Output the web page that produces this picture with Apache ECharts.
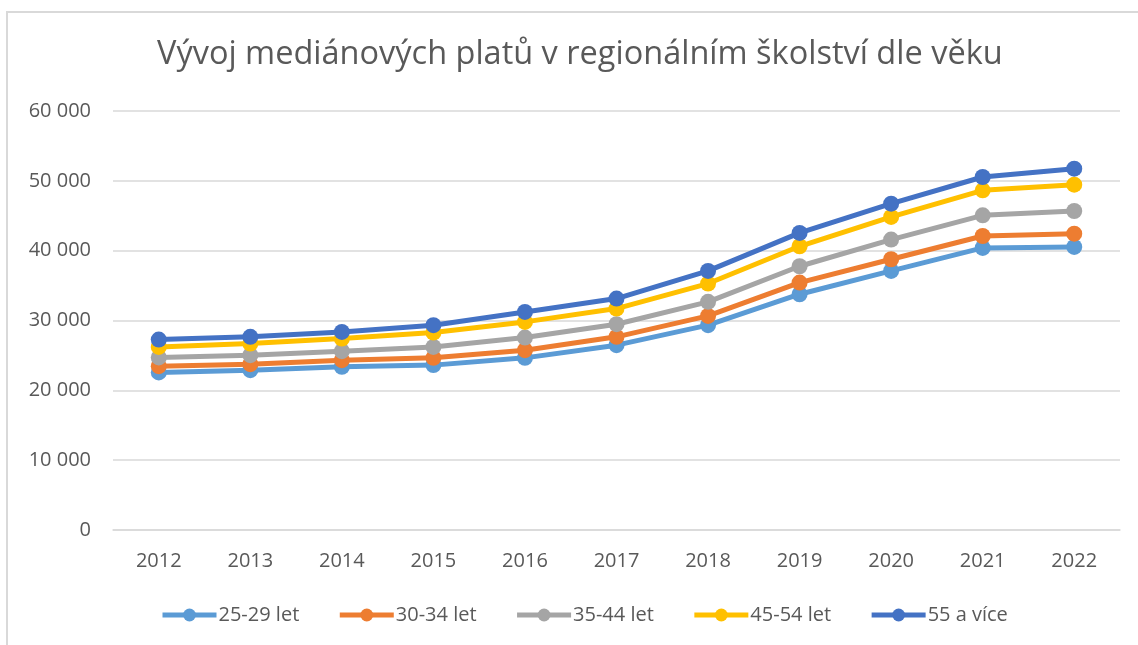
<!DOCTYPE html>
<html>
<head>
<meta charset="utf-8">
<script src="https://cdn.jsdelivr.net/npm/echarts@6/dist/echarts.min.js"></script>
<style>
  html, body { margin: 0; padding: 0; background: #fff; }
  #chart { width: 1138px; height: 645px; }
  .frame {
    position: absolute; left: 6px; top: 11px; width: 1140px; height: 640px;
    border-left: 2px solid #d9d9d9; border-top: 2px solid #d9d9d9;
    pointer-events: none;
  }
</style>
</head>
<body>
<div id="chart"></div>
<div class="frame"></div>
<script>
// roky
const years = ['2012', '2013', '2014', '2015', '2016', '2017', '2018', '2019', '2020', '2021', '2022']
// mediánové platy podle věkových skupin
const age25_29 = [22560, 22890, 23360, 23610, 24650, 26470, 29330, 33760, 37100, 40390, 40530]
const age30_34 = [23460, 23750, 24320, 24650, 25750, 27660, 30660, 35430, 38770, 42100, 42440]
const age35_44 = [24710, 25040, 25610, 26220, 27560, 29470, 32670, 37770, 41590, 45060, 45680]
const age45_54 = [26220, 26710, 27420, 28280, 29800, 31710, 35290, 40630, 44830, 48640, 49450]
const age55plus = [27270, 27660, 28370, 29330, 31230, 33140, 37100, 42540, 46730, 50550, 51740]
const seriesNames = ['25-29 let', '30-34 let', '35-44 let', '45-54 let', '55 a více']
const colors = ['#5b9bd5', '#ed7d31', '#a5a5a5', '#ffc000', '#4472c4']

const font = '"Open Sans", "Noto Sans", sans-serif'
let myEcharts = echarts.init(document.getElementById('chart'))

const makeLine = (name, data, color) => ({
  name: name,
  type: 'line',
  data: data,
  symbol: 'circle',
  symbolSize: 16,
  lineStyle: { width: 5, color: color },
  itemStyle: { color: color },
  animation: false
})

let option = {
  color: colors,
  title: {
    text: 'Vývoj mediánových platů v regionálním školství dle věku',
    left: 152,
    top: 33,
    textStyle: { fontFamily: font, fontSize: 32.5, fontWeight: 'normal', color: '#595959' }
  },
  legend: {
    bottom: 15,
    left: 155,
    itemWidth: 54,
    itemHeight: 16,
    itemGap: 38,
    lineStyle: { width: 5 },
    textStyle: { fontFamily: font, fontSize: 20, color: '#595959', padding: [0, 0, 0, -3] },
    data: seriesNames
  },
  grid: { left: 113, right: 18, top: 111, bottom: 115 },
  xAxis: {
    type: 'category',
    data: years,
    axisLine: { lineStyle: { color: '#d9d9d9', width: 1.5 } },
    axisTick: { show: false },
    axisLabel: { fontFamily: font, fontSize: 20, color: '#595959', margin: 21 }
  },
  yAxis: {
    type: 'value',
    min: 0,
    max: 60000,
    interval: 10000,
    axisLine: { show: false },
    axisTick: { show: false },
    splitLine: { lineStyle: { color: '#d9d9d9', width: 1.5 } },
    axisLabel: {
      fontFamily: font, fontSize: 20, color: '#595959', margin: 22,
      formatter: v => String(v).replace(/\B(?=(\d{3})+(?!\d))/g, ' ')
    }
  },
  series: [
    makeLine(seriesNames[0], age25_29, colors[0]),
    makeLine(seriesNames[1], age30_34, colors[1]),
    makeLine(seriesNames[2], age35_44, colors[2]),
    makeLine(seriesNames[3], age45_54, colors[3]),
    makeLine(seriesNames[4], age55plus, colors[4])
  ]
}

option && myEcharts.setOption(option)
</script>
</body>
</html>
